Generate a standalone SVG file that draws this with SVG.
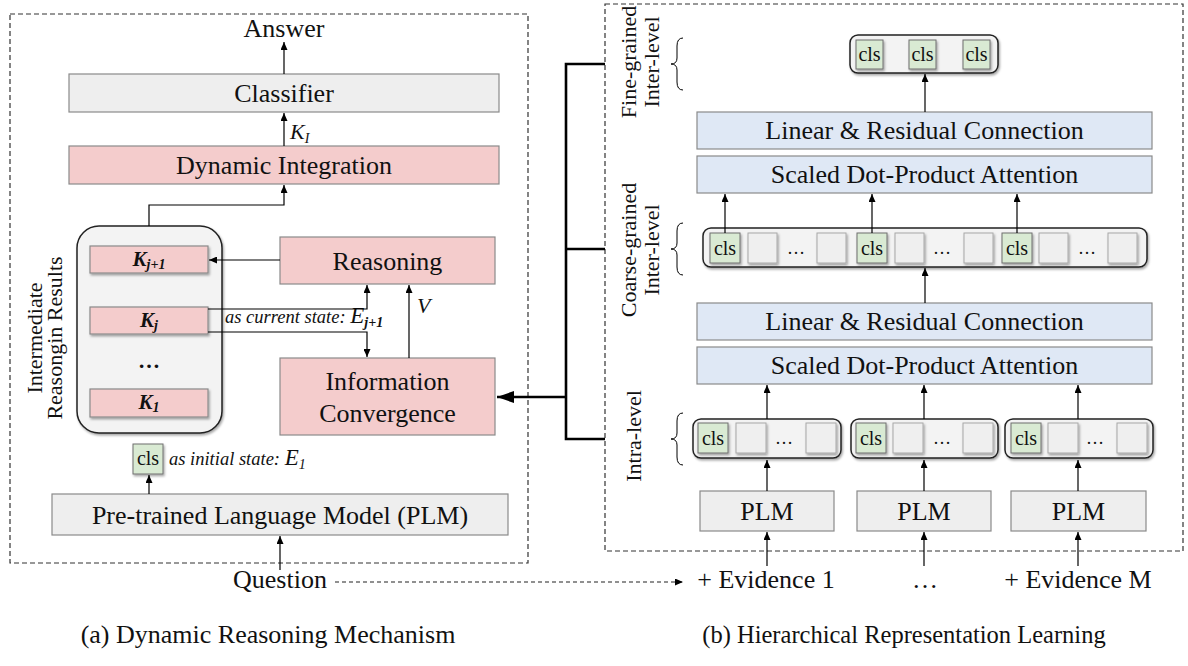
<svg xmlns="http://www.w3.org/2000/svg" width="1188" height="666" viewBox="0 0 1188 666">
<defs>
<marker id="ah" markerUnits="userSpaceOnUse" markerWidth="8" markerHeight="7" refX="8" refY="3.5" orient="auto"><path d="M0,0 L8,3.5 L0,7 z" fill="#000"/></marker>
<marker id="ahb" markerUnits="userSpaceOnUse" markerWidth="17" markerHeight="12" refX="17" refY="6" orient="auto"><path d="M0,0 L17,6 L0,12 z" fill="#000"/></marker>
<filter id="sh" x="-20%" y="-20%" width="140%" height="150%"><feDropShadow dx="1.2" dy="1.8" stdDeviation="1.2" flood-color="#000" flood-opacity="0.35"/></filter>
</defs>
<style>
text{font-family:"Liberation Serif","Times New Roman",serif;fill:#111}
.t26{font-size:26px}
.t22{font-size:22px}
.mid{text-anchor:middle}
.gray{fill:#eeeeee;stroke:#8a8a8a;stroke-width:1.2}
.pink{fill:#f4cccc;stroke:#8a8a8a;stroke-width:1.2}
.blue{fill:#dfe8f5;stroke:#8a8a8a;stroke-width:1.2}
.green{fill:#d9ead3;stroke:#6f6f6f;stroke-width:1}
.cell{fill:#efefef;stroke:#a8a8a8;stroke-width:1}
.cont{fill:#f3f3f3;stroke:#222;stroke-width:1.5}
.dash{fill:none;stroke:#333;stroke-width:1.2;stroke-dasharray:5,3}
.ln{fill:none;stroke:#000;stroke-width:1.2}
.thick{fill:none;stroke:#000;stroke-width:2.6}
.brace{fill:none;stroke:#000;stroke-width:1}
.cls{font-size:20px;text-anchor:middle}
.it{font-style:italic}
.bi{font-style:italic;font-weight:bold}
</style>

<!-- panel frames -->
<rect class="dash" x="10" y="14" width="518" height="549"/>
<rect class="dash" x="605" y="4" width="578" height="547"/>

<!-- left panel nodes -->
<g id="answer"><text class="t26 mid" x="284" y="37">Answer</text></g>
<g id="classifier"><rect class="gray" x="69" y="74" width="430" height="38"/><text class="t26 mid" x="284" y="102">Classifier</text></g>
<g id="ki-label"><text class="it" x="290" y="139" font-size="22">K<tspan font-size="14" dy="4">I</tspan></text></g>
<g id="dynamic-integration"><rect class="pink" x="69" y="146" width="430" height="38"/><text class="t26 mid" x="284" y="174">Dynamic Integration</text></g>

<g id="intermediate">
<rect class="cont" x="77" y="226" width="145" height="207" rx="22" filter="url(#sh)"/>
<text class="t22 mid" transform="translate(42,338) rotate(-90)">Intermediate</text>
<text class="t22 mid" transform="translate(62,338) rotate(-90)">Reasongin Results</text>
</g>
<g id="k-j1"><rect class="pink" x="90" y="246" width="118" height="27" filter="url(#sh)"/><text class="bi mid" x="149" y="266" font-size="21">K<tspan font-size="14" dy="3">j+1</tspan></text></g>
<g id="k-j"><rect class="pink" x="90" y="307" width="118" height="27" filter="url(#sh)"/><text class="bi mid" x="149" y="327" font-size="21">K<tspan font-size="14" dy="3">j</tspan></text></g>
<g id="k-dots"><text class="mid" x="149" y="368" font-size="22" font-weight="bold">…</text></g>
<g id="k-1"><rect class="pink" x="90" y="389" width="118" height="28" filter="url(#sh)"/><text class="bi mid" x="149" y="409" font-size="21">K<tspan font-size="14" dy="3">1</tspan></text></g>

<g id="reasoning"><rect class="pink" x="280" y="237" width="215" height="47"/><text class="t26 mid" x="387.5" y="270">Reasoning</text></g>
<g id="information-convergence"><rect class="pink" x="280" y="358" width="215" height="77"/><text class="t26 mid" x="387.5" y="390">Information</text><text class="t26 mid" x="387.5" y="422">Convergence</text></g>
<g id="current-state-label"><text class="it" x="225" y="323" font-size="18.5">as current state: <tspan font-size="23">E</tspan><tspan font-size="14" font-weight="bold" dy="4">j+1</tspan></text></g>
<g id="v-label"><text class="it" x="417" y="313" font-size="22">V</text></g>

<g id="cls-left"><rect class="green" x="133" y="444" width="30" height="30" filter="url(#sh)"/><text class="cls" x="148" y="465">cls</text></g>
<g id="initial-state-label"><text class="it" x="169" y="465" font-size="18.5">as initial state:  <tspan font-size="23">E</tspan><tspan font-size="14" dy="4">1</tspan></text></g>
<g id="plm-left"><rect class="gray" x="52" y="494" width="456" height="41"/><text class="t26 mid" x="280" y="524">Pre-trained Language Model (PLM)</text></g>
<g id="question"><text class="t26 mid" x="280" y="588">Question</text></g>
<g id="caption-a"><text class="mid" x="268" y="643" font-size="26">(a) Dynamic Reasoning Mechanism</text></g>

<!-- right panel nodes -->
<g id="fine-label">
<text class="t22 mid" transform="translate(636,62) rotate(-90)">Fine-grained</text>
<text class="t22 mid" transform="translate(659,62) rotate(-90)">Inter-level</text>
<path class="brace" d="M683,38 Q677,38 677,46 L677,58 Q677,64 671,64 Q677,64 677,70 L677,82 Q677,90 683,90"/>
</g>
<g id="coarse-label">
<text class="t22 mid" transform="translate(636,250) rotate(-90)">Coarse-grained</text>
<text class="t22 mid" transform="translate(659,250) rotate(-90)">Inter-level</text>
<path class="brace" d="M683,223 Q677,223 677,231 L677,243 Q677,249 671,249 Q677,249 677,255 L677,267 Q677,275 683,275"/>
</g>
<g id="intra-label">
<text class="t22 mid" transform="translate(641,436) rotate(-90)">Intra-level</text>
<path class="brace" d="M683,413 Q677,413 677,421 L677,433 Q677,439 671,439 Q677,439 677,445 L677,457 Q677,465 683,465"/>
</g>

<g id="fine-cls">
<rect class="cont" x="850" y="35" width="148" height="38" rx="8" filter="url(#sh)"/>
<rect class="green" x="856" y="40" width="27" height="29" filter="url(#sh)"/><text class="cls" x="869.5" y="61">cls</text>
<rect class="green" x="909" y="40" width="27" height="29" filter="url(#sh)"/><text class="cls" x="922.5" y="61">cls</text>
<rect class="green" x="963" y="40" width="27" height="29" filter="url(#sh)"/><text class="cls" x="976.5" y="61">cls</text>
</g>
<g id="linear-top"><rect class="blue" x="697" y="112" width="455" height="37"/><text class="t26 mid" x="924.5" y="139">Linear &amp; Residual Connection</text></g>
<g id="attention-top"><rect class="blue" x="697" y="156" width="455" height="37"/><text class="t26 mid" x="924.5" y="183">Scaled Dot-Product Attention</text></g>

<g id="coarse-seq">
<rect class="cont" x="703" y="228" width="444" height="39" rx="8" filter="url(#sh)"/>
<rect class="green" x="710" y="233" width="30" height="30" filter="url(#sh)"/><text class="cls" x="725" y="255">cls</text>
<rect class="cell" x="748" y="233" width="29" height="30" filter="url(#sh)"/>
<text class="mid" x="796" y="254" font-size="18">…</text>
<rect class="cell" x="817" y="233" width="29" height="30" filter="url(#sh)"/>
<rect class="green" x="857" y="233" width="30" height="30" filter="url(#sh)"/><text class="cls" x="872" y="255">cls</text>
<rect class="cell" x="895" y="233" width="29" height="30" filter="url(#sh)"/>
<text class="mid" x="942" y="254" font-size="18">…</text>
<rect class="cell" x="964" y="233" width="29" height="30" filter="url(#sh)"/>
<rect class="green" x="1002" y="233" width="30" height="30" filter="url(#sh)"/><text class="cls" x="1017" y="255">cls</text>
<rect class="cell" x="1039" y="233" width="29" height="30" filter="url(#sh)"/>
<text class="mid" x="1087" y="254" font-size="18">…</text>
<rect class="cell" x="1108" y="233" width="29" height="30" filter="url(#sh)"/>
</g>
<g id="linear-bottom"><rect class="blue" x="697" y="303" width="455" height="37"/><text class="t26 mid" x="924.5" y="330">Linear &amp; Residual Connection</text></g>
<g id="attention-bottom"><rect class="blue" x="697" y="347" width="455" height="37"/><text class="t26 mid" x="924.5" y="374">Scaled Dot-Product Attention</text></g>

<g id="intra-seq-1">
<rect class="cont" x="693" y="419" width="148" height="39" rx="8" filter="url(#sh)"/>
<rect class="green" x="698" y="423" width="30" height="30" filter="url(#sh)"/><text class="cls" x="713" y="445">cls</text>
<rect class="cell" x="736" y="423" width="30" height="30" filter="url(#sh)"/>
<text class="mid" x="784" y="444" font-size="18">…</text>
<rect class="cell" x="806" y="423" width="30" height="30" filter="url(#sh)"/>
</g>
<g id="intra-seq-2">
<rect class="cont" x="851" y="419" width="147" height="39" rx="8" filter="url(#sh)"/>
<rect class="green" x="856" y="423" width="30" height="30" filter="url(#sh)"/><text class="cls" x="871" y="445">cls</text>
<rect class="cell" x="893" y="423" width="30" height="30" filter="url(#sh)"/>
<text class="mid" x="942" y="444" font-size="18">…</text>
<rect class="cell" x="963" y="423" width="30" height="30" filter="url(#sh)"/>
</g>
<g id="intra-seq-3">
<rect class="cont" x="1005" y="419" width="148" height="39" rx="8" filter="url(#sh)"/>
<rect class="green" x="1011" y="423" width="30" height="30" filter="url(#sh)"/><text class="cls" x="1026" y="445">cls</text>
<rect class="cell" x="1048" y="423" width="30" height="30" filter="url(#sh)"/>
<text class="mid" x="1095" y="444" font-size="18">…</text>
<rect class="cell" x="1117" y="423" width="30" height="30" filter="url(#sh)"/>
</g>

<g id="plm-1"><rect class="gray" x="700" y="491" width="134" height="40"/><text class="t26 mid" x="767" y="520">PLM</text></g>
<g id="plm-2"><rect class="gray" x="857" y="491" width="134" height="40"/><text class="t26 mid" x="924" y="520">PLM</text></g>
<g id="plm-3"><rect class="gray" x="1011" y="491" width="135" height="40"/><text class="t26 mid" x="1078.5" y="520">PLM</text></g>

<g id="evidence-1"><text class="t26 mid" x="766" y="588">+ Evidence 1</text></g>
<g id="evidence-dots"><text class="t26 mid" x="925" y="588">…</text></g>
<g id="evidence-m"><text class="t26 mid" x="1078" y="588">+ Evidence M</text></g>
<g id="caption-b"><text class="mid" x="904" y="643" font-size="24.5">(b) Hierarchical Representation Learning</text></g>

<!-- connectors -->
<g id="connectors">
<line class="ln" x1="284" y1="74" x2="284" y2="42" marker-end="url(#ah)"/>
<line class="ln" x1="284" y1="146" x2="284" y2="113" marker-end="url(#ah)"/>
<path class="ln" d="M149,226 V205 H284 V185" marker-end="url(#ah)"/>
<line class="ln" x1="280" y1="260" x2="209" y2="260" marker-end="url(#ah)"/>
<path class="ln" d="M208,309 H367 V285" marker-end="url(#ah)"/>
<path class="ln" d="M208,332 H367 V357" marker-end="url(#ah)"/>
<line class="ln" x1="409" y1="358" x2="409" y2="285" marker-end="url(#ah)"/>
<line class="ln" x1="149" y1="494" x2="149" y2="475" marker-end="url(#ah)"/>
<line class="ln" x1="280" y1="570" x2="280" y2="536" marker-end="url(#ah)"/>
<line x1="335" y1="582" x2="683" y2="582" stroke="#222" stroke-width="1.1" stroke-dasharray="4,3" marker-end="url(#ah)"/>
<path class="thick" d="M605,64 H566 V439 H605 M566,249 H605"/>
<line class="thick" x1="566" y1="397" x2="497" y2="397" marker-end="url(#ahb)"/>
<line class="ln" x1="925" y1="112" x2="925" y2="74" marker-end="url(#ah)"/>
<line class="ln" x1="725" y1="233" x2="725" y2="194" marker-end="url(#ah)"/>
<line class="ln" x1="872" y1="233" x2="872" y2="194" marker-end="url(#ah)"/>
<line class="ln" x1="1017" y1="233" x2="1017" y2="194" marker-end="url(#ah)"/>
<line class="ln" x1="925" y1="303" x2="925" y2="268" marker-end="url(#ah)"/>
<line class="ln" x1="767" y1="419" x2="767" y2="385" marker-end="url(#ah)"/>
<line class="ln" x1="924" y1="419" x2="924" y2="385" marker-end="url(#ah)"/>
<line class="ln" x1="1078" y1="419" x2="1078" y2="385" marker-end="url(#ah)"/>
<line class="ln" x1="767" y1="491" x2="767" y2="460" marker-end="url(#ah)"/>
<line class="ln" x1="924" y1="491" x2="924" y2="460" marker-end="url(#ah)"/>
<line class="ln" x1="1078" y1="491" x2="1078" y2="460" marker-end="url(#ah)"/>
<line class="ln" x1="767" y1="566" x2="767" y2="532" marker-end="url(#ah)"/>
<line class="ln" x1="924" y1="566" x2="924" y2="532" marker-end="url(#ah)"/>
<line class="ln" x1="1078" y1="566" x2="1078" y2="532" marker-end="url(#ah)"/>
</g>
</svg>
